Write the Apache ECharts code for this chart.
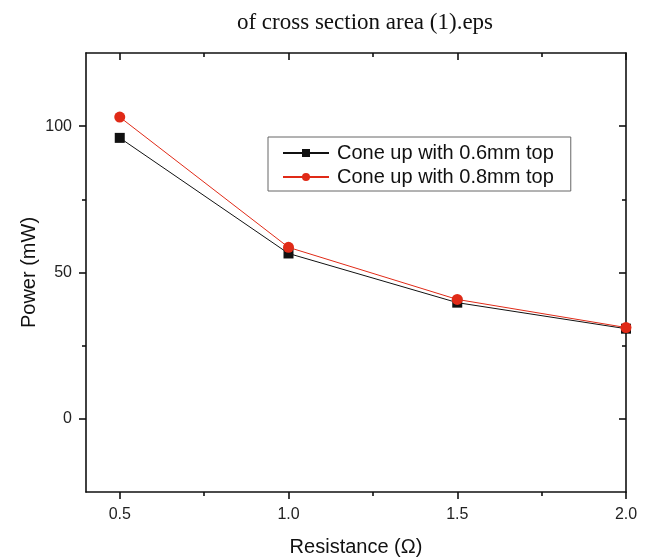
<!DOCTYPE html>
<html><head><meta charset="utf-8">
<script src="https://cdn.jsdelivr.net/npm/echarts@6/dist/echarts.min.js"></script>
<style>html,body{margin:0;padding:0;background:#fff}#c{width:647px;height:557px}</style>
</head><body><div id="c"></div>
<script>
const resistance = [0.5, 1.0, 1.5, 2.0];
const power06 = [96.0, 56.5, 39.7, 30.8];
const power08 = [103.1, 58.6, 40.8, 31.2];
const seriesNames = ['Cone up with 0.6mm top', 'Cone up with 0.8mm top'];
const xMajorTicks = [0.5, 1.0, 1.5, 2.0];
const xMinorTicks = [0.75, 1.25, 1.75];
const yMajorTicks = [0, 50, 100];
const yMinorTicks = [25, 75];

const chart = echarts.init(document.getElementById('c'), null, {renderer: 'canvas'});
const sans = 'Liberation Sans, Arial, sans-serif';
const axisFont = {fontFamily: sans, fontSize: 16, color: '#222'};
const lineStyle = {color: '#111', width: 1.6};

const xBase = {type: 'value', min: 0.4, max: 2.0, splitLine: {show: false}};
const yBase = {type: 'value', min: -25, max: 125, splitLine: {show: false}};

chart.setOption({
  animation: false,
  title: {
    text: 'of cross section area (1).eps', left: 360, top: 6, textAlign: 'center',
    textStyle: {fontFamily: 'Liberation Serif, DejaVu Serif, serif', fontSize: 23, fontWeight: 'normal', color: '#111'}
  },
  grid: {left: 86, right: 21, top: 53, bottom: 65, containLabel: false, outerBoundsMode: 'none'},
  legend: {
    left: 268, top: 137, orient: 'vertical', itemGap: 4, itemWidth: 46, itemHeight: 10,
    padding: [6, 17, 4, 14], borderColor: '#666', borderWidth: 1,
    textStyle: {fontFamily: sans, fontSize: 20, color: '#111', padding: [0, 0, 0, 3]},
    data: seriesNames
  },
  xAxis: [
    Object.assign({}, xBase, {position: 'bottom',
      name: 'Resistance (Ω)', nameLocation: 'middle', nameGap: 45,
      nameTextStyle: {fontFamily: sans, fontSize: 20, color: '#111'},
      axisLine: {show: true, onZero: false, lineStyle},
      axisTick: {show: true, length: 7, lineStyle, customValues: xMajorTicks},
      axisLabel: Object.assign({customValues: xMajorTicks, formatter: v => v.toFixed(1), margin: 15}, axisFont)}),
    Object.assign({}, xBase, {position: 'bottom',
      axisLine: {show: false, onZero: false},
      axisTick: {show: true, length: 4, lineStyle, customValues: xMinorTicks}, axisLabel: {show: false}}),
    Object.assign({}, xBase, {position: 'top',
      axisLine: {show: true, onZero: false, lineStyle},
      axisTick: {show: true, inside: true, length: 7, lineStyle, customValues: xMajorTicks}, axisLabel: {show: false}}),
    Object.assign({}, xBase, {position: 'top',
      axisLine: {show: false, onZero: false},
      axisTick: {show: true, inside: true, length: 4, lineStyle, customValues: xMinorTicks}, axisLabel: {show: false}})
  ],
  yAxis: [
    Object.assign({}, yBase, {position: 'left',
      name: 'Power (mW)', nameLocation: 'middle', nameGap: 47, nameMoveOverlap: false,
      nameTextStyle: {fontFamily: sans, fontSize: 20, color: '#111'},
      axisLine: {show: true, onZero: false, lineStyle},
      axisTick: {show: true, length: 7, lineStyle, customValues: yMajorTicks},
      axisLabel: Object.assign({customValues: yMajorTicks, margin: 14}, axisFont)}),
    Object.assign({}, yBase, {position: 'left',
      axisLine: {show: false, onZero: false},
      axisTick: {show: true, length: 4, lineStyle, customValues: yMinorTicks}, axisLabel: {show: false}}),
    Object.assign({}, yBase, {position: 'right',
      axisLine: {show: true, onZero: false, lineStyle},
      axisTick: {show: true, inside: true, length: 7, lineStyle, customValues: yMajorTicks}, axisLabel: {show: false}}),
    Object.assign({}, yBase, {position: 'right',
      axisLine: {show: false, onZero: false},
      axisTick: {show: true, inside: true, length: 4, lineStyle, customValues: yMinorTicks}, axisLabel: {show: false}})
  ],
  series: [
    {name: seriesNames[0], type: 'line', xAxisIndex: 0, yAxisIndex: 0,
     data: resistance.map((x, i) => [x, power06[i]]),
     symbol: 'rect', symbolSize: 10, lineStyle: {color: '#111', width: 1}, itemStyle: {color: '#111'}},
    {name: seriesNames[1], type: 'line', xAxisIndex: 0, yAxisIndex: 0,
     data: resistance.map((x, i) => [x, power08[i]]),
     symbol: 'circle', symbolSize: 11, lineStyle: {color: '#e02a17', width: 1}, itemStyle: {color: '#e02a17'}}
  ]
});
</script></body></html>
